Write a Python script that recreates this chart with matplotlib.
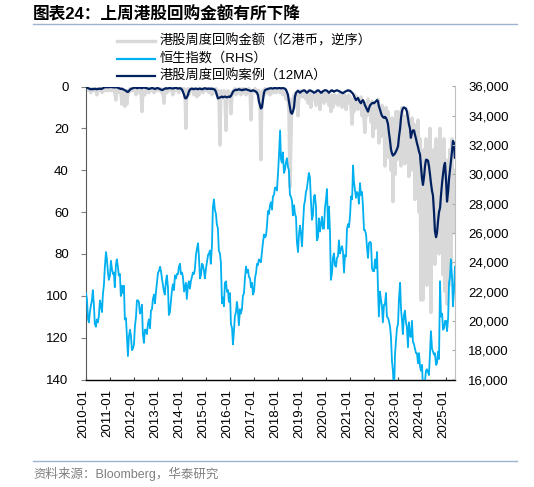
import pandas as pd
import matplotlib
matplotlib.use("Agg")
import matplotlib.pyplot as plt
from matplotlib.lines import Line2D
from matplotlib.ticker import FuncFormatter
from matplotlib.transforms import ScaledTranslation

plt.rcParams['font.family'] = ['Liberation Sans', 'Noto Sans CJK SC']

## Data: semi-monthly readings (1st and 15th of each month), Jan 2010 - May 2025

# Hang Seng index (RHS)
hsi_2010 = [21900, 21500, 20100, 19900, 20600, 21000, 21400, 22100, 21100, 19800, 19600, 20100,
            19900, 20300, 21400, 21100, 20600, 21800, 22500, 23700, 24700, 24200, 23300, 22800]
hsi_2011 = [23100, 24100, 23500, 23200, 23300, 22300, 23800, 24200, 23700, 23100, 23200, 21700,
            22400, 21900, 22400, 20100, 20200, 19000, 17600, 18900, 19400, 19000, 18000, 18100]
hsi_2012 = [18400, 19600, 20300, 21400, 21400, 21300, 20500, 20700, 21100, 19100, 18500, 19400,
            19400, 19100, 19800, 20100, 19500, 20700, 20800, 21500, 21800, 21200, 22000, 22600]
hsi_2013 = [23300, 23400, 23700, 23400, 22900, 22500, 22000, 21800, 22700, 23100, 22300, 20400,
            20600, 21300, 22100, 22500, 22100, 23100, 22900, 23200, 23200, 23700, 23900, 23200]
hsi_2014 = [23300, 23000, 22000, 22300, 22600, 21500, 22400, 22700, 22200, 22700, 23000, 23300,
            23200, 23500, 24500, 24900, 25300, 24400, 22900, 23100, 23900, 23800, 23400, 22900]
hsi_2015 = [23600, 24000, 24500, 24600, 24800, 23900, 25100, 27700, 28300, 27600, 27300, 26600,
            26300, 24800, 24600, 24000, 21200, 21600, 21000, 22600, 22700, 22000, 22100, 21300]
hsi_2016 = [21900, 19800, 19500, 18400, 19300, 20300, 20600, 21300, 20700, 19700, 20800, 20500,
            20800, 21700, 21900, 22900, 23700, 23300, 23500, 23000, 22900, 22300, 22600, 21800]
hsi_2017 = [22000, 22900, 23300, 23900, 23800, 24200, 24100, 24000, 24700, 25300, 25900, 25700,
            25800, 26400, 27500, 27300, 27900, 28100, 27600, 28500, 28600, 29100, 29100, 28900]
hsi_2018 = [30100, 31300, 33000, 31000, 30800, 31500, 30100, 30300, 30800, 31100, 30500, 30300,
            28600, 28500, 28200, 27200, 27900, 27300, 27100, 25400, 24700, 25900, 26500, 26000]
hsi_2019 = [25100, 26500, 27900, 28200, 28800, 29000, 29600, 30100, 29800, 28300, 26900, 27200,
            28500, 28600, 27800, 25500, 25700, 27000, 26100, 26600, 27100, 26300, 26300, 27700]
hsi_2020 = [28300, 29000, 26300, 27800, 26100, 22800, 23300, 24300, 24600, 23800, 23700, 24300,
            24400, 25500, 24600, 24900, 25100, 24700, 23300, 24500, 24400, 26300, 26600, 26400]
hsi_2021 = [27200, 28500, 28300, 30600, 29500, 29000, 28400, 28800, 28700, 28000, 29400, 28600,
            28800, 27900, 26200, 26200, 25900, 25000, 24300, 25300, 25400, 25300, 23600, 23400]
hsi_2022 = [23400, 24200, 23600, 24700, 22300, 20300, 22000, 21500, 21000, 19900, 21100, 21100,
            21900, 20300, 20200, 20000, 19600, 18900, 17200, 16600, 15000, 17700, 18700, 19500]
hsi_2023 = [19800, 21500, 22600, 20800, 20100, 19100, 20400, 20700, 19900, 19600, 18200, 19900,
            19000, 18900, 20000, 18600, 18400, 18100, 17800, 17800, 17100, 17800, 16900, 16600]
hsi_2024 = [17000, 15300, 15500, 15900, 16600, 16700, 16500, 16300, 17800, 19300, 18100, 17900,
            17700, 17800, 17000, 17100, 17900, 17400, 22700, 20300, 20500, 19400, 19500, 20000]
hsi_2025 = [20000, 19300, 20200, 22600, 23000, 24200, 23000, 21000, 22100, 23700]

# weekly buyback amount, HKD 100m (LHS, reversed)
amt_2010 = [1, 0.5, 1, 2, 1, 3, 1, 0.5, 2, 1, 1, 4, 1, 2, 1, 1, 3, 1, 1, 2, 1, 1, 2, 1]
amt_2011 = [1, 2, 1, 1, 2, 3, 6.5, 1, 3, 2, 1, 3, 8.5, 2, 4, 9.5, 3, 8.5, 2, 3, 1, 2, 1, 2]
amt_2012 = [2, 1, 4, 1, 2, 1, 3, 1, 12, 3, 2, 4, 1, 2, 1, 3, 1, 2, 1, 1, 3, 1, 2, 1]
amt_2013 = [1, 2, 1, 1, 3, 2, 8, 2, 1, 3, 1, 2, 1, 1, 2, 4, 1, 1, 2, 1, 1, 3, 1, 1]
amt_2014 = [1, 2, 1, 3, 20, 2, 1, 4, 2, 1, 2, 1, 4, 1, 2, 5, 1, 4, 1, 2, 1, 3, 1, 2]
amt_2015 = [1, 2, 1, 3, 1, 2, 4, 1, 2, 3, 1, 4, 2, 3, 28, 2, 5, 3, 2, 4, 21, 3, 2, 4]
amt_2016 = [3, 13, 4, 2, 3, 1, 4, 2, 3, 1, 2, 4, 1, 3, 2, 1, 4, 2, 3, 1, 2, 16, 3, 2]
amt_2017 = [2, 1, 3, 2, 4, 2, 8, 35, 3, 2, 4, 1, 2, 3, 1, 2, 4, 1, 2, 3, 2, 1, 3, 2]
amt_2018 = [2, 1, 3, 2, 1, 4, 2, 3, 6, 4, 5, 12, 48, 30, 6, 10, 4, 5, 3, 6, 14, 3, 5, 2]
amt_2019 = [3, 5, 2, 4, 6, 3, 8, 4, 3, 10, 5, 3, 6, 4, 9, 3, 5, 4, 11, 3, 6, 4, 8, 3]
amt_2020 = [4, 7, 3, 9, 5, 12, 4, 10, 6, 4, 8, 5, 9, 4, 7, 3, 10, 5, 6, 4, 11, 5, 8, 4]
amt_2021 = [5, 10, 18, 6, 12, 4, 9, 5, 11, 6, 8, 5, 14, 7, 16, 22, 8, 14, 6, 12, 9, 17, 7, 24]
amt_2022 = [10, 20, 8, 18, 6, 27, 12, 24, 9, 22, 14, 38, 10, 30, 12, 34, 20, 40, 15, 55, 18, 42, 12, 35]
amt_2023 = [12, 30, 15, 38, 10, 28, 18, 37, 14, 30, 12, 43, 20, 34, 15, 40, 18, 54, 22, 45, 16, 60, 25, 102]
amt_2024 = [40, 102, 30, 70, 25, 95, 35, 60, 20, 108, 40, 75, 30, 85, 25, 65, 35, 80, 20, 70, 30, 90, 25, 98]
amt_2025 = [35, 104, 40, 95, 30, 85, 25, 70, 40, 60]

# weekly buyback cases, 12MA (LHS, reversed)
cnt_2010 = [0.2, 0.5, 0.8, 1, 1.2, 1.3, 1.2, 1.3, 1.2, 1.1, 1.2, 1.3, 1.2, 1.1, 1, 1.2, 1.1, 0.8, 0.5, 0.4, 0.3, 0.3, 0.4, 0.3]
cnt_2011 = [0.3, 0.2, 0.3, 0.4, 0.3, 0.5, 0.4, 0.3, 0.6, 0.8, 1, 1.2, 1, 1.3, 1.5, 1.8, 2, 2.5, 2.6, 2.2, 1.5, 1.2, 1, 0.8]
cnt_2012 = [0.6, 0.5, 0.6, 0.8, 0.7, 0.6, 0.5, 0.7, 0.8, 0.6, 0.5, 0.6, 0.7, 0.8, 1, 1.2, 1, 0.8, 0.7, 0.8, 1, 1.2, 1, 0.8]
cnt_2013 = [0.8, 1, 1.2, 1.5, 1.7, 1.6, 1.2, 1, 0.8, 1, 0.9, 0.8, 0.7, 0.8, 0.9, 1, 0.8, 0.7, 0.6, 0.8, 1, 0.9, 0.8, 1]
cnt_2014 = [1.5, 2.5, 4, 5.5, 5.7, 5.2, 4, 2.5, 1.5, 1.2, 1, 1.2, 1.3, 1.1, 1, 1.2, 1.3, 1.1, 1, 1.2, 1.3, 1.2, 1, 0.8]
cnt_2015 = [1, 1.2, 1, 1.1, 1, 1.2, 1, 1.2, 1.3, 1.5, 2.5, 4, 5.7, 5.5, 5.3, 5, 4.8, 5.2, 5, 4.8, 5, 5.2, 5, 4.8]
cnt_2016 = [5, 4.5, 3.5, 2.5, 2, 1.8, 1.5, 1.7, 1.5, 1.3, 1.5, 1.6, 1.8, 1.5, 1.6, 1.4, 1.3, 1.5, 1.7, 1.8, 2, 2.2, 2, 1.8]
cnt_2017 = [2, 2.2, 2.5, 3, 4, 7, 9, 10.5, 10, 7, 3, 1.8, 1.5, 1.3, 1.2, 1, 0.9, 0.8, 0.9, 1, 0.8, 0.7, 0.8, 0.9]
cnt_2018 = [0.8, 0.7, 0.8, 0.9, 0.8, 0.7, 0.9, 1, 1.5, 2.5, 4, 7, 10, 12.5, 13, 12, 10, 5, 3, 2.5, 2, 2.5, 3, 2.5]
cnt_2019 = [2.2, 2, 1.8, 2, 2.5, 3, 2.5, 2, 1.8, 2, 2.2, 2.5, 3, 2.8, 2.5, 2, 1.8, 2, 2.5, 3, 2.8, 2.2, 2, 1.8]
cnt_2020 = [1.8, 2, 2.5, 3, 2.5, 2, 1.8, 2.2, 2.5, 2.2, 2, 1.8, 2, 2.2, 2.5, 2.8, 3, 3.2, 2.8, 2.5, 2.2, 2, 1.8, 2]
cnt_2021 = [2, 2.5, 3, 3.5, 4.5, 5.5, 6.5, 6, 5.5, 6.5, 7.5, 8, 7, 6.5, 7.5, 9, 10, 11, 12, 10.5, 9, 8.5, 8, 7.8]
cnt_2022 = [8, 7.5, 7, 6.5, 7, 9.4, 11, 12.5, 14, 14.5, 15, 14.5, 15, 16, 18, 22, 26, 30, 32, 33, 32.5, 32, 31, 30]
cnt_2023 = [28.5, 24, 20, 15, 11.8, 10.5, 10, 10.3, 10.5, 12, 15, 18, 20, 24.5, 22, 21, 21, 23, 25, 27, 29, 31, 32.5, 38]
cnt_2024 = [44, 47, 43, 38, 35, 35, 35.5, 38, 42, 46, 50, 52, 60, 69, 72, 70, 64, 60, 58, 52, 46, 42, 38, 36.5]
cnt_2025 = [45, 55, 50, 44, 40, 36, 31, 26, 27, 34]

hsi = (hsi_2010 + hsi_2011 + hsi_2012 + hsi_2013 + hsi_2014 + hsi_2015 + hsi_2016 + hsi_2017
       + hsi_2018 + hsi_2019 + hsi_2020 + hsi_2021 + hsi_2022 + hsi_2023 + hsi_2024 + hsi_2025)
amt = (amt_2010 + amt_2011 + amt_2012 + amt_2013 + amt_2014 + amt_2015 + amt_2016 + amt_2017
       + amt_2018 + amt_2019 + amt_2020 + amt_2021 + amt_2022 + amt_2023 + amt_2024 + amt_2025)
cnt = (cnt_2010 + cnt_2011 + cnt_2012 + cnt_2013 + cnt_2014 + cnt_2015 + cnt_2016 + cnt_2017
       + cnt_2018 + cnt_2019 + cnt_2020 + cnt_2021 + cnt_2022 + cnt_2023 + cnt_2024 + cnt_2025)

dates = pd.date_range("2010-01-01", "2025-05-15", freq="SMS")
year_ticks = pd.date_range("2010-01-01", "2025-01-01", freq="YS")

labels = ["港股周度回购金额（亿港币，逆序）", "恒生指数（RHS）", "港股周度回购案例（12MA）"]
colors = ["#D9D9D9", "#00B0F0", "#002060"]

W, H = 534, 487
fig = plt.figure(figsize=(W / 100, H / 100), dpi=100)
ax = fig.add_axes([86 / W, 1 - 379.5 / H, (455.5 - 86) / W, 293 / H])
ax2 = ax.twinx()

ax.plot(dates, amt, color=colors[0], lw=2.4, zorder=1)
ax.plot(dates, cnt, color=colors[2], lw=1.6, zorder=3)
ax2.plot(dates, hsi, color=colors[1], lw=1.3)

# axes
ax.set_ylim(140, 0)
ax.set_yticks(range(0, 141, 20))
ax2.set_ylim(16000, 36000)
ax2.set_yticks(range(16000, 36001, 2000))
ax2.yaxis.set_major_formatter(FuncFormatter(lambda v, p: f"{int(v):,}"))
ax.set_xlim(pd.Timestamp("2010-01-01"), pd.Timestamp("2025-05-24"))
ax.set_xticks(year_ticks)
ax.set_xticklabels([d.strftime("%Y-%m") for d in year_ticks], rotation=90)

for s in ["top", "right"]:
    ax.spines[s].set_visible(False)
for s in ["top", "left", "bottom"]:
    ax2.spines[s].set_visible(False)
ax.spines["left"].set_color("#595959")
ax.spines["bottom"].set_color("#000000")
ax.spines["bottom"].set_linewidth(1.0)
ax2.spines["right"].set_color("#BFBFBF")

ax.tick_params(axis="y", direction="out", length=3.5, color="#808080", pad=9, labelsize=9.5)
ax.tick_params(axis="x", direction="in", length=2.4, color="#404040", pad=7, labelsize=9.5)
ax2.tick_params(axis="y", direction="in", length=2.4, color="#A6A6A6", pad=9, labelsize=9.5)

shift = ScaledTranslation(-0.025, 0, fig.dpi_scale_trans)
for lab in ax.get_xticklabels():
    lab.set_transform(lab.get_transform() + shift)

# legend drawn by hand above the plot
for i, (lab, c) in enumerate(zip(labels, colors)):
    yy = 1 - (41 + 17.5 * i) / H
    fig.add_artist(Line2D([117 / W, 155 / W], [yy, yy], transform=fig.transFigure,
                          color=c, lw=2.4 if i == 0 else 1.6))
    fig.text(160 / W, yy, lab, fontsize=9.5, va="center", ha="left")

# title, rules and source
fig.text(33 / W, 1 - 14.5 / H, "图表24：上周港股回购金额有所下降", fontsize=12,
         fontweight="bold", va="center", ha="left")
fig.add_artist(Line2D([33 / W, 517 / W], [1 - 24 / H] * 2, transform=fig.transFigure,
                      color="#9DB3CF", lw=1.0))
fig.add_artist(Line2D([33 / W, 517 / W], [1 - 461 / H] * 2, transform=fig.transFigure,
                      color="#9DB3CF", lw=1.0))
fig.text(33 / W, 1 - 474 / H, "资料来源：Bloomberg，华泰研究", fontsize=9,
         color="#808080", va="center", ha="left")

fig.savefig("out.png", dpi=100)
